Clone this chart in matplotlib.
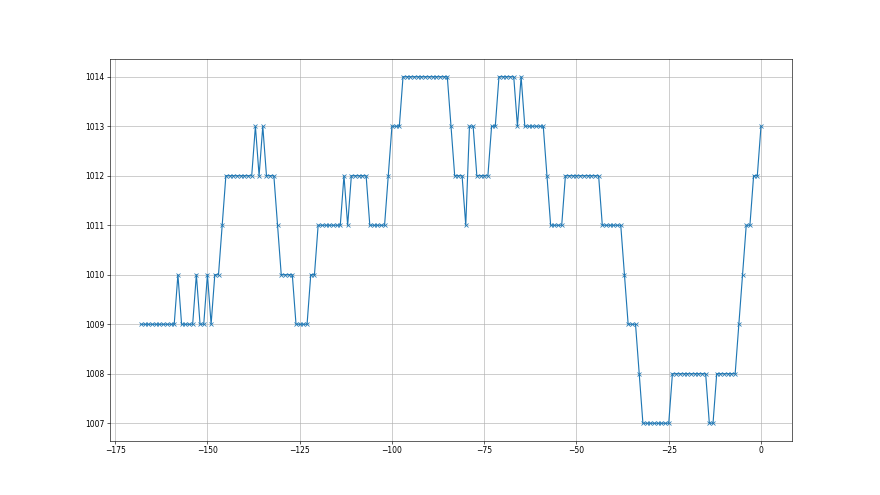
import numpy as np
import matplotlib
matplotlib.use("Agg")
import matplotlib.pyplot as plt

# hours relative to now, one reading per hour over a week
hours = np.arange(-168, 1)

# pressure readings (hPa), oldest first
pressure = [
    1009, 1009, 1009, 1009, 1009, 1009, 1009, 1009, 1009, 1009,   # -168..-159
    1010, 1009, 1009, 1009, 1009, 1010, 1009, 1009, 1010, 1009,   # -158..-149
    1010, 1010, 1011, 1012, 1012, 1012, 1012, 1012, 1012, 1012,   # -148..-139
    1012, 1013, 1012, 1013, 1012, 1012, 1012, 1011, 1010, 1010,   # -138..-129
    1010, 1010, 1009, 1009, 1009, 1009, 1010, 1010, 1011, 1011,   # -128..-119
    1011, 1011, 1011, 1011, 1011, 1012, 1011, 1012, 1012, 1012,   # -118..-109
    1012, 1012, 1011, 1011, 1011, 1011, 1011, 1012, 1013, 1013,   # -108..-99
    1013, 1014, 1014, 1014, 1014, 1014, 1014, 1014, 1014, 1014,   # -98..-89
    1014, 1014, 1014, 1014, 1013, 1012, 1012, 1012, 1011, 1013,   # -88..-79
    1013, 1012, 1012, 1012, 1012, 1013, 1013, 1014, 1014, 1014,   # -78..-69
    1014, 1014, 1013, 1014, 1013, 1013, 1013, 1013, 1013, 1013,   # -68..-59
    1012, 1011, 1011, 1011, 1011, 1012, 1012, 1012, 1012, 1012,   # -58..-49
    1012, 1012, 1012, 1012, 1012, 1011, 1011, 1011, 1011, 1011,   # -48..-39
    1011, 1010, 1009, 1009, 1009, 1008, 1007, 1007, 1007, 1007,   # -38..-29
    1007, 1007, 1007, 1007, 1008, 1008, 1008, 1008, 1008, 1008,   # -28..-19
    1008, 1008, 1008, 1008, 1007, 1007, 1008, 1008, 1008, 1008,   # -18..-9
    1008, 1008, 1009, 1010, 1011, 1011, 1012, 1012, 1013,         # -8..0
]

fig, ax = plt.subplots(figsize=(16, 9), dpi=55)
ax.plot(hours, pressure, marker="x")
ax.grid(True)

plt.savefig("out.png")
